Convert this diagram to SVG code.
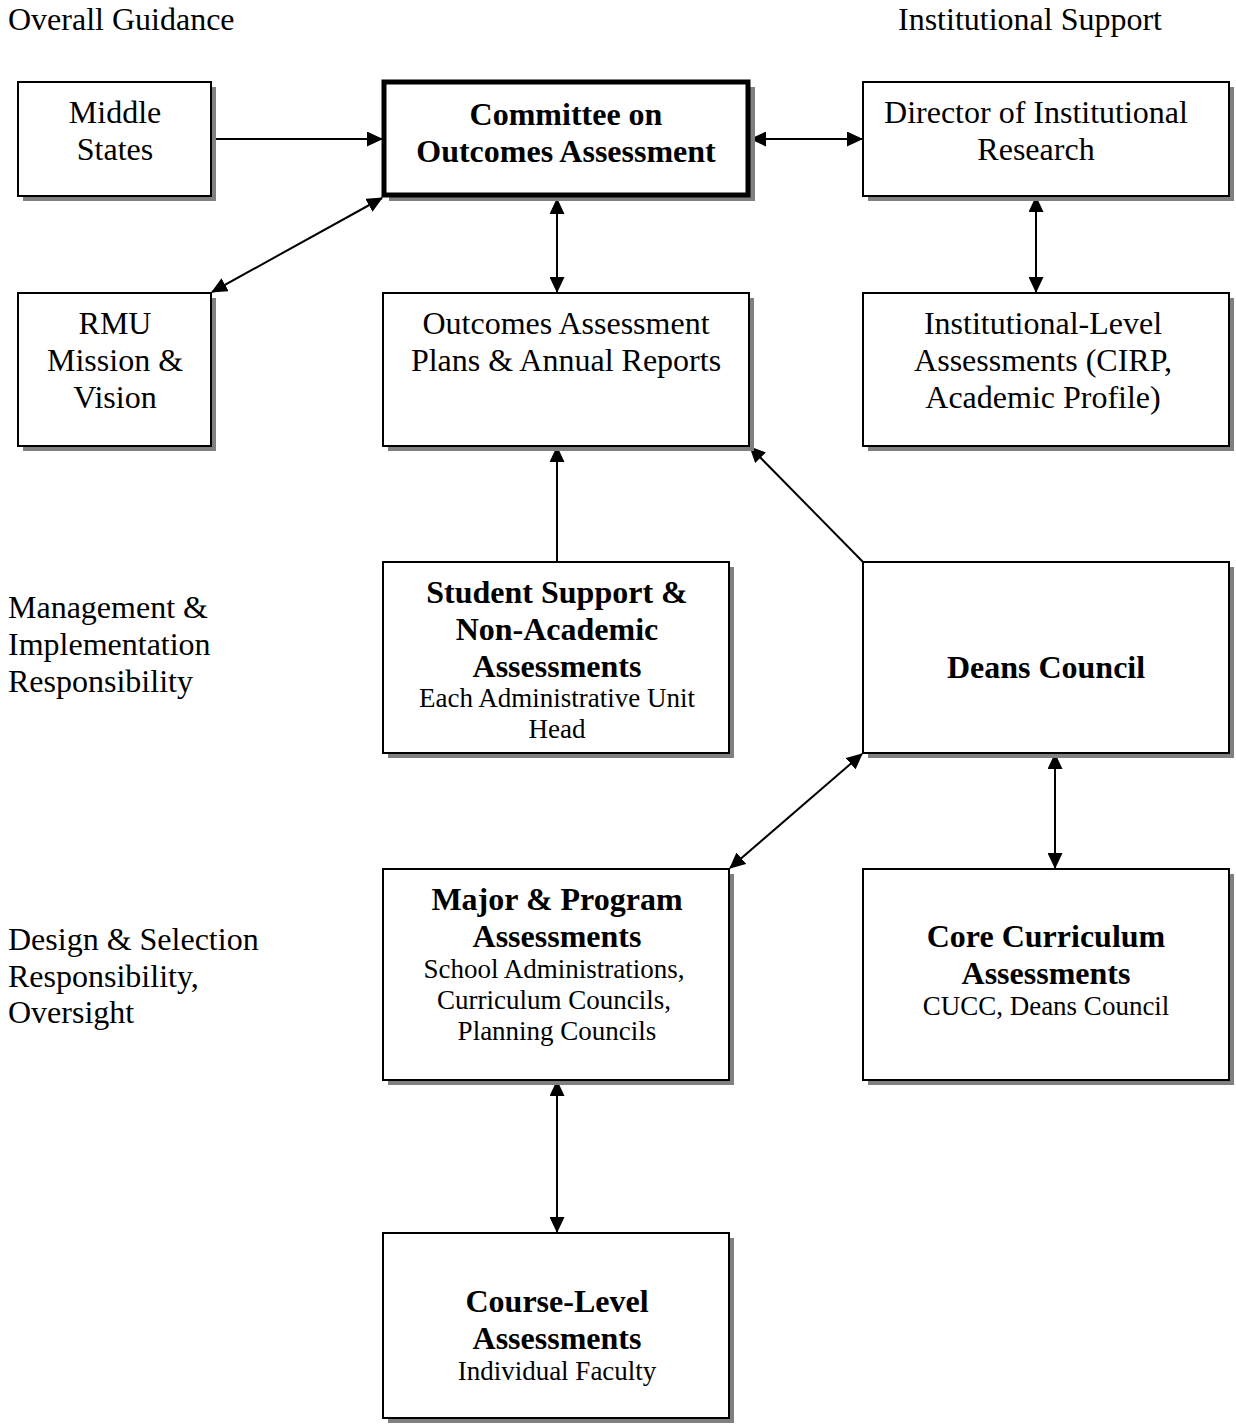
<svg xmlns="http://www.w3.org/2000/svg" width="1236" height="1427" viewBox="0 0 1236 1427">
<style>
text{font-family:"Liberation Serif","Times New Roman",serif;fill:#000}
.t{font-size:32px}
.b{font-size:32px;font-weight:bold}
.s{font-size:27px}
.m{text-anchor:middle}
.sh{fill:#808080}
.bx{fill:#fff;stroke:#000;stroke-width:2}
.bxt{fill:#fff;stroke:#000;stroke-width:5}
.c{stroke:#000;stroke-width:2;fill:none}
</style>
<defs>
<marker id="a" markerWidth="16" markerHeight="15" refX="15" refY="7.5" orient="auto-start-reverse" markerUnits="userSpaceOnUse">
<path d="M0,0 L16,7.5 L0,15 Z" fill="#000"/>
</marker>
</defs>
<g id="labels">
<text class="t" x="8" y="30">Overall Guidance</text>
<text class="t" x="898" y="30">Institutional Support</text>
<text class="t" x="8" y="618">Management &amp;</text>
<text class="t" x="8" y="655">Implementation</text>
<text class="t" x="8" y="692">Responsibility</text>
<text class="t" x="8" y="950">Design &amp; Selection</text>
<text class="t" x="8" y="987">Responsibility,</text>
<text class="t" x="8" y="1023">Oversight</text>
</g>
<g id="connectors">
<line class="c" x1="211" y1="139" x2="382" y2="139" marker-end="url(#a)"/>
<line class="c" x1="751" y1="139" x2="862" y2="139" marker-start="url(#a)" marker-end="url(#a)"/>
<line class="c" x1="382" y1="198" x2="212" y2="292" marker-start="url(#a)" marker-end="url(#a)"/>
<line class="c" x1="557" y1="199" x2="557" y2="292" marker-start="url(#a)" marker-end="url(#a)"/>
<line class="c" x1="1036" y1="197" x2="1036" y2="292" marker-start="url(#a)" marker-end="url(#a)"/>
<line class="c" x1="557" y1="562" x2="557" y2="447" marker-end="url(#a)"/>
<line class="c" x1="863" y1="562" x2="750" y2="447" marker-end="url(#a)"/>
<line class="c" x1="862" y1="754" x2="730" y2="868" marker-start="url(#a)" marker-end="url(#a)"/>
<line class="c" x1="1055" y1="754" x2="1055" y2="868" marker-start="url(#a)" marker-end="url(#a)"/>
<line class="c" x1="557" y1="1081" x2="557" y2="1232" marker-start="url(#a)" marker-end="url(#a)"/>
</g>
<g id="middle-states">
<rect class="sh" x="23" y="87" width="193" height="114"/>
<rect class="bx" x="18" y="82" width="193" height="114"/>
<text class="t m" x="115" y="123">Middle</text>
<text class="t m" x="115" y="160">States</text>
</g>
<g id="committee">
<rect class="sh" x="389" y="87" width="366" height="114"/>
<rect class="bxt" x="384" y="82" width="364" height="113"/>
<text class="b m" x="566" y="125">Committee on</text>
<text class="b m" x="566" y="162">Outcomes Assessment</text>
</g>
<g id="director">
<rect class="sh" x="868" y="87" width="366" height="114"/>
<rect class="bx" x="863" y="82" width="366" height="114"/>
<text class="t m" x="1036" y="123">Director of Institutional</text>
<text class="t m" x="1036" y="160">Research</text>
</g>
<g id="rmu">
<rect class="sh" x="23" y="298" width="193" height="153"/>
<rect class="bx" x="18" y="293" width="193" height="153"/>
<text class="t m" x="115" y="334">RMU</text>
<text class="t m" x="115" y="371">Mission &amp;</text>
<text class="t m" x="115" y="408">Vision</text>
</g>
<g id="plans">
<rect class="sh" x="388" y="298" width="366" height="153"/>
<rect class="bx" x="383" y="293" width="366" height="153"/>
<text class="t m" x="566" y="334">Outcomes Assessment</text>
<text class="t m" x="566" y="371">Plans &amp; Annual Reports</text>
</g>
<g id="institutional">
<rect class="sh" x="868" y="298" width="366" height="153"/>
<rect class="bx" x="863" y="293" width="366" height="153"/>
<text class="t m" x="1043" y="334">Institutional-Level</text>
<text class="t m" x="1043" y="371">Assessments (CIRP,</text>
<text class="t m" x="1043" y="408">Academic Profile)</text>
</g>
<g id="student-support">
<rect class="sh" x="388" y="567" width="346" height="191"/>
<rect class="bx" x="383" y="562" width="346" height="191"/>
<text class="b m" x="557" y="603">Student Support &amp;</text>
<text class="b m" x="557" y="640">Non-Academic</text>
<text class="b m" x="557" y="677">Assessments</text>
<text class="s m" x="557" y="707">Each Administrative Unit</text>
<text class="s m" x="557" y="738">Head</text>
</g>
<g id="deans">
<rect class="sh" x="868" y="567" width="366" height="191"/>
<rect class="bx" x="863" y="562" width="366" height="191"/>
<text class="b m" x="1046" y="678">Deans Council</text>
</g>
<g id="major">
<rect class="sh" x="388" y="874" width="346" height="211"/>
<rect class="bx" x="383" y="869" width="346" height="211"/>
<text class="b m" x="557" y="910">Major &amp; Program</text>
<text class="b m" x="557" y="947">Assessments</text>
<text class="s m" x="554" y="978">School Administrations,</text>
<text class="s m" x="554" y="1009">Curriculum Councils,</text>
<text class="s m" x="557" y="1040">Planning Councils</text>
</g>
<g id="core">
<rect class="sh" x="868" y="874" width="366" height="211"/>
<rect class="bx" x="863" y="869" width="366" height="211"/>
<text class="b m" x="1046" y="947">Core Curriculum</text>
<text class="b m" x="1046" y="984">Assessments</text>
<text class="s m" x="1046" y="1015">CUCC, Deans Council</text>
</g>
<g id="course">
<rect class="sh" x="388" y="1238" width="346" height="185"/>
<rect class="bx" x="383" y="1233" width="346" height="185"/>
<text class="b m" x="557" y="1312">Course-Level</text>
<text class="b m" x="557" y="1349">Assessments</text>
<text class="s m" x="557" y="1380">Individual Faculty</text>
</g>
</svg>
